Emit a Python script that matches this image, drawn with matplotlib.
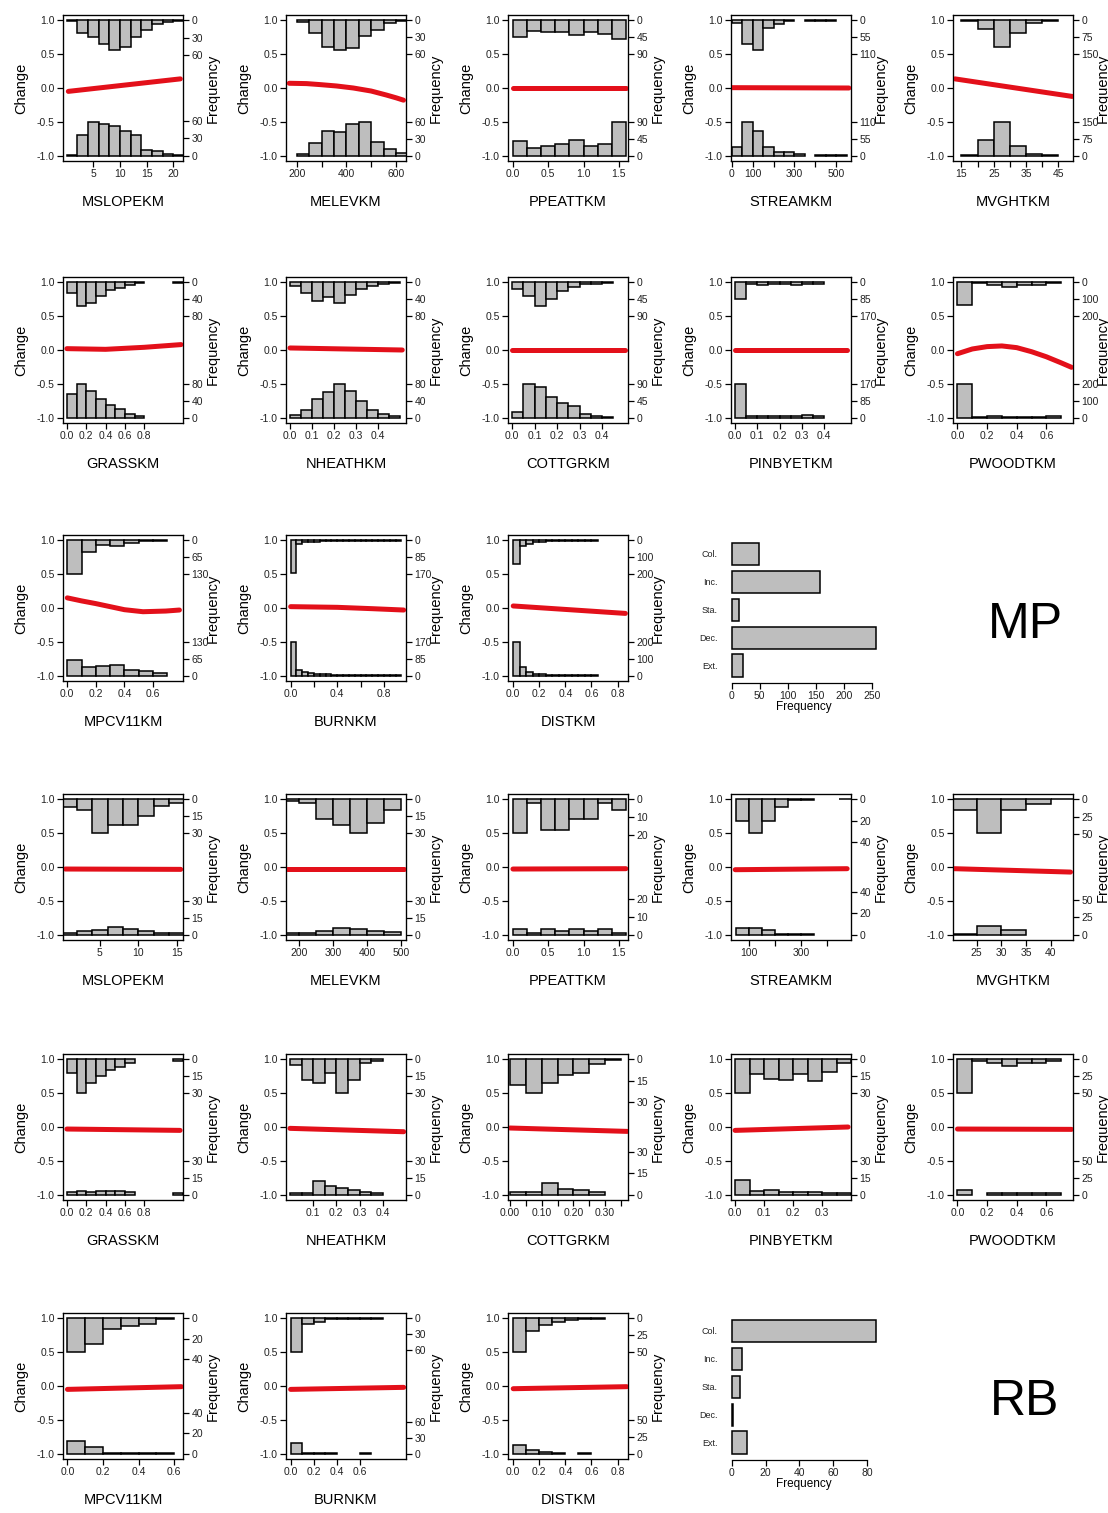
import numpy as np
import matplotlib.pyplot as plt

plt.rcParams['font.family'] = ['Liberation Sans', 'DejaVu Sans']

# ---------------- MP panels ----------------
mp_mslopekm_edges = [0, 2, 4, 6, 8, 10, 12, 14, 16, 18, 20, 22]
mp_mslopekm_hi = [1, 22, 29, 41, 51, 45, 28, 16, 6, 2, 1]
mp_mslopekm_lo = [1, 36, 58, 54, 50, 42, 36, 10, 8, 3, 1]
mp_mslopekm_fx = [0.3, 21.3]
mp_mslopekm_fy = [-0.05, 0.135]

mp_melevkm_edges = [200, 250, 300, 350, 400, 450, 500, 550, 600, 650]
mp_melevkm_hi = [2, 22, 47, 53, 49, 28, 17, 4, 1]
mp_melevkm_lo = [2, 22, 43, 41, 56, 60, 25, 12, 4]
mp_melevkm_fx = [170, 240, 295, 360, 428, 500, 562, 600, 630]
mp_melevkm_fy = [0.07, 0.065, 0.05, 0.03, 0.0, -0.045, -0.105, -0.145, -0.18]

mp_ppeattkm_edges = [0.0, 0.2, 0.4, 0.6, 0.8, 1.0, 1.2, 1.4, 1.6]
mp_ppeattkm_hi = [43, 27, 32, 30, 40, 30, 35, 50]
mp_ppeattkm_lo = [40, 20, 25, 30, 42, 25, 30, 90]
mp_ppeattkm_fx = [0.0, 1.6]
mp_ppeattkm_fy = [0.0, 0.0]

mp_streamkm_edges = [0, 50, 100, 150, 200, 250, 300, 350, 400, 450, 500, 550]
mp_streamkm_hi = [7, 77, 95, 26, 11, 2, None, 1, 1, 1, None]
mp_streamkm_lo = [29, 110, 79, 29, 13, 11, 4, None, 1, 1, 1]
mp_streamkm_fx = [0, 560]
mp_streamkm_fy = [0.005, 0.0]

mp_mvghtkm_edges = [15, 20, 25, 30, 35, 40, 45]
mp_mvghtkm_hi = [3, 39, 120, 57, 12, 3]
mp_mvghtkm_lo = [2, 70, 150, 43, 6, 3]
mp_mvghtkm_fx = [13, 49.3]
mp_mvghtkm_fy = [0.135, -0.125]

mp_grasskm_edges = [0.0, 0.1, 0.2, 0.3, 0.4, 0.5, 0.6, 0.7, 0.8, 0.9, 1.0, 1.1, 1.2]
mp_grasskm_hi = [24, 56, 48, 32, 19, 13, 5, 2, None, None, None, 1]
mp_grasskm_lo = [56, 80, 64, 45, 29, 21, 8, 3, None, None, None, None]
mp_grasskm_fx = [0.0, 0.4, 0.8, 1.18]
mp_grasskm_fy = [0.02, 0.01, 0.04, 0.08]

mp_nheathkm_edges = [0.0, 0.05, 0.1, 0.15, 0.2, 0.25, 0.3, 0.35, 0.4, 0.45, 0.5]
mp_nheathkm_hi = [8, 24, 45, 35, 48, 29, 16, 8, 3, 2]
mp_nheathkm_lo = [5, 19, 45, 61, 80, 64, 40, 19, 8, 3]
mp_nheathkm_fx = [0.0, 0.51]
mp_nheathkm_fy = [0.03, 0.0]

mp_cottgrkm_edges = [0.0, 0.05, 0.1, 0.15, 0.2, 0.25, 0.3, 0.35, 0.4, 0.45]
mp_cottgrkm_hi = [18, 36, 63, 45, 22, 13, 5, 4, 2]
mp_cottgrkm_lo = [14, 90, 81, 54, 40, 31, 9, 4, 2]
mp_cottgrkm_fx = [0.0, 0.5]
mp_cottgrkm_fy = [0.0, 0.0]

mp_pinbyetkm_edges = [0.0, 0.05, 0.1, 0.15, 0.2, 0.25, 0.3, 0.35, 0.4]
mp_pinbyetkm_hi = [85, 10, 14, 10, 10, 14, 10, 7]
mp_pinbyetkm_lo = [170, 10, 7, 10, 7, 10, 14, 10]
mp_pinbyetkm_fx = [0.0, 0.5]
mp_pinbyetkm_fy = [0.0, 0.0]

mp_pwoodtkm_edges = [0.0, 0.1, 0.2, 0.3, 0.4, 0.5, 0.6, 0.7]
mp_pwoodtkm_hi = [135, 4, 16, 30, 16, 14, 6]
mp_pwoodtkm_lo = [200, 2, 9, 5, 3, 2, 10]
mp_pwoodtkm_fx = [0.0, 0.1, 0.2, 0.3, 0.4, 0.5, 0.6, 0.7, 0.77]
mp_pwoodtkm_fy = [-0.055, 0.015, 0.05, 0.06, 0.035, -0.025, -0.1, -0.19, -0.256]

mp_mpcv11km_edges = [0.0, 0.1, 0.2, 0.3, 0.4, 0.5, 0.6, 0.7]
mp_mpcv11km_hi = [130, 45, 17, 22, 10, 4, 1]
mp_mpcv11km_lo = [60, 34, 38, 39, 23, 16, 9]
mp_mpcv11km_fx = [0.0, 0.1, 0.2, 0.3, 0.4, 0.53, 0.69, 0.785]
mp_mpcv11km_fy = [0.15, 0.105, 0.065, 0.02, -0.025, -0.055, -0.045, -0.03]

mp_burnkm_edges = [0.0, 0.05, 0.1, 0.15, 0.2, 0.25, 0.3, 0.35, 0.4, 0.45, 0.5,
                   0.55, 0.6, 0.65, 0.7, 0.75, 0.8, 0.85, 0.9, 0.95]
mp_burnkm_hi = [165, 17, 10, 7, 6, 5, 4, 3, 2, 2, 1, 1, 1, 1, 1, 1, 1, 1, 1]
mp_burnkm_lo = [170, 27, 17, 14, 10, 8, 6, 5, 4, 3, 3, 2, 2, 1, 1, 1, 1, 1, 1]
mp_burnkm_fx = [0.0, 0.4, 0.7, 0.97]
mp_burnkm_fy = [0.02, 0.01, -0.01, -0.03]

mp_distkm_edges = [0.0, 0.05, 0.1, 0.15, 0.2, 0.25, 0.3, 0.35, 0.4, 0.45, 0.5,
                   0.55, 0.6, 0.65]
mp_distkm_hi = [140, 32, 20, 12, 8, 6, 4, 3, 2, 2, 1, 1, 1]
mp_distkm_lo = [200, 52, 20, 12, 8, 5, 4, 3, 2, 2, 1, 1, 1]
mp_distkm_fx = [0.0, 0.86]
mp_distkm_fy = [0.03, -0.08]

mp_categories = ['Col.', 'Inc.', 'Sta.', 'Dec.', 'Ext.']
mp_trend_freq = [48, 157, 14, 258, 20]

# ---------------- RB panels ----------------
rb_mslopekm_edges = [0, 2, 4, 6, 8, 10, 12, 14, 16]
rb_mslopekm_hi = [7, 9, 30, 23, 23, 15, 6, 3]
rb_mslopekm_lo = [1, 3, 4, 7, 5, 3, 1, 1]
rb_mslopekm_fx = [0.5, 15.5]
rb_mslopekm_fy = [-0.03, -0.035]

rb_melevkm_edges = [150, 200, 250, 300, 350, 400, 450, 500]
rb_melevkm_hi = [1, 3, 17, 23, 30, 21, 9]
rb_melevkm_lo = [1, 1, 3, 6, 5, 3, 2]
rb_melevkm_fx = [165, 510]
rb_melevkm_fy = [-0.03, -0.03]

rb_ppeattkm_edges = [0.0, 0.2, 0.4, 0.6, 0.8, 1.0, 1.2, 1.4, 1.6]
rb_ppeattkm_hi = [19, 2, 17, 17, 11, 11, 2, 6]
rb_ppeattkm_lo = [3, 1, 3, 2, 3, 2, 3, 1]
rb_ppeattkm_fx = [0.0, 1.6]
rb_ppeattkm_fy = [-0.03, -0.025]

rb_streamkm_edges = [50, 100, 150, 200, 250, 300, 350, 400, 450, 500]
rb_streamkm_hi = [20, 32, 20, 7, 1, 1, None, None, 0]
rb_streamkm_lo = [6.5, 6.5, 4, 1, 0.5, 1, None, None, None]
rb_streamkm_fx = [45, 480]
rb_streamkm_fy = [-0.04, -0.025]

rb_mvghtkm_edges = [20, 25, 30, 35, 40, 45]
rb_mvghtkm_hi = [16, 49, 15, 6, 0]
rb_mvghtkm_lo = [1.5, 13, 6, None, None]
rb_mvghtkm_fx = [20.5, 44]
rb_mvghtkm_fy = [-0.025, -0.075]

rb_grasskm_edges = [0.0, 0.1, 0.2, 0.3, 0.4, 0.5, 0.6, 0.7, 0.8, 0.9, 1.0, 1.1, 1.2]
rb_grasskm_hi = [12, 30, 21, 15, 9, 7, 3, None, None, None, None, 1]
rb_grasskm_lo = [2, 3, 2, 3, 3, 3, 2, None, None, None, None, 1]
rb_grasskm_fx = [0.0, 1.17]
rb_grasskm_fy = [-0.03, -0.05]

rb_nheathkm_edges = [0.0, 0.05, 0.1, 0.15, 0.2, 0.25, 0.3, 0.35, 0.4]
rb_nheathkm_hi = [5, 18, 21, 12, 30, 18, 3, 1]
rb_nheathkm_lo = [1, 1, 12, 8, 6, 4, 2, 1]
rb_nheathkm_fx = [0.0, 0.49]
rb_nheathkm_fy = [-0.02, -0.07]

rb_cottgrkm_edges = [0.0, 0.05, 0.1, 0.15, 0.2, 0.25, 0.3, 0.35]
rb_cottgrkm_hi = [18, 24, 17, 11, 10, 3, 0.5]
rb_cottgrkm_lo = [2, 2, 8, 4, 3, 2, None]
rb_cottgrkm_fx = [0.0, 0.37]
rb_cottgrkm_fy = [-0.015, -0.065]

rb_pinbyetkm_edges = [0.0, 0.05, 0.1, 0.15, 0.2, 0.25, 0.3, 0.35, 0.4]
rb_pinbyetkm_hi = [30, 13, 17, 18, 13, 19, 11, 3]
rb_pinbyetkm_lo = [13, 3, 4, 2, 2, 2, 1, 1]
rb_pinbyetkm_fx = [0.0, 0.39]
rb_pinbyetkm_fy = [-0.05, 0.0]

rb_pwoodtkm_edges = [0.0, 0.1, 0.2, 0.3, 0.4, 0.5, 0.6, 0.7]
rb_pwoodtkm_hi = [50, 3, 5, 10, 5, 5, 3]
rb_pwoodtkm_lo = [7, None, 2, 2, 2, 2, 2]
rb_pwoodtkm_fx = [0.0, 0.77]
rb_pwoodtkm_fy = [-0.03, -0.035]

rb_mpcv11km_edges = [0.0, 0.1, 0.2, 0.3, 0.4, 0.5, 0.6]
rb_mpcv11km_hi = [33, 25, 10, 7, 5, 0.5]
rb_mpcv11km_lo = [12, 6, 0.5, 0.5, 0.5, 0.5]
rb_mpcv11km_fx = [0.0, 0.64]
rb_mpcv11km_fy = [-0.05, -0.01]

rb_burnkm_edges = [0.0, 0.1, 0.2, 0.3, 0.4, 0.5, 0.6, 0.7, 0.8]
rb_burnkm_hi = [65, 10, 6, 2, 1, 1, 1, 1]
rb_burnkm_lo = [20, 1, 1, 1, None, None, 1, None]
rb_burnkm_fx = [0.0, 0.98]
rb_burnkm_fy = [-0.05, -0.02]

rb_distkm_edges = [0.0, 0.1, 0.2, 0.3, 0.4, 0.5, 0.6, 0.7]
rb_distkm_hi = [50, 18, 10, 5, 3, 1, 1]
rb_distkm_lo = [12, 5, 2, 1, None, 1, None]
rb_distkm_fx = [0.0, 0.87]
rb_distkm_fy = [-0.04, -0.01]

rb_categories = ['Col.', 'Inc.', 'Sta.', 'Dec.', 'Ext.']
rb_trend_freq = [85, 6, 5, 1, 9]

# panel table: (name, edges, hi, lo, fit x, fit y, xlim, xticks, xticklabels, freq ticks)
mp_panels = [
    ('MSLOPEKM', mp_mslopekm_edges, mp_mslopekm_hi, mp_mslopekm_lo, mp_mslopekm_fx, mp_mslopekm_fy,
     (-0.7, 21.8), [5, 10, 15, 20], ['5', '10', '15', '20'], [0, 30, 60]),
    ('MELEVKM', mp_melevkm_edges, mp_melevkm_hi, mp_melevkm_lo, mp_melevkm_fx, mp_melevkm_fy,
     (157, 640), [200, 300, 400, 500, 600], ['200', '', '400', '', '600'], [0, 30, 60]),
    ('PPEATTKM', mp_ppeattkm_edges, mp_ppeattkm_hi, mp_ppeattkm_lo, mp_ppeattkm_fx, mp_ppeattkm_fy,
     (-0.07, 1.63), [0, 0.5, 1.0, 1.5], ['0.0', '0.5', '1.0', '1.5'], [0, 45, 90]),
    ('STREAMKM', mp_streamkm_edges, mp_streamkm_hi, mp_streamkm_lo, mp_streamkm_fx, mp_streamkm_fy,
     (-3, 570), [0, 100, 200, 300, 400, 500], ['0', '100', '', '300', '', '500'], [0, 55, 110]),
    ('MVGHTKM', mp_mvghtkm_edges, mp_mvghtkm_hi, mp_mvghtkm_lo, mp_mvghtkm_fx, mp_mvghtkm_fy,
     (12.4, 49.5), [15, 20, 25, 30, 35, 40, 45], ['15', '', '25', '', '35', '', '45'], [0, 75, 150]),
    ('GRASSKM', mp_grasskm_edges, mp_grasskm_hi, mp_grasskm_lo, mp_grasskm_fx, mp_grasskm_fy,
     (-0.04, 1.2), [0, 0.2, 0.4, 0.6, 0.8], ['0.0', '0.2', '0.4', '0.6', '0.8'], [0, 40, 80]),
    ('NHEATHKM', mp_nheathkm_edges, mp_nheathkm_hi, mp_nheathkm_lo, mp_nheathkm_fx, mp_nheathkm_fy,
     (-0.018, 0.527), [0, 0.1, 0.2, 0.3, 0.4], ['0.0', '0.1', '0.2', '0.3', '0.4'], [0, 40, 80]),
    ('COTTGRKM', mp_cottgrkm_edges, mp_cottgrkm_hi, mp_cottgrkm_lo, mp_cottgrkm_fx, mp_cottgrkm_fy,
     (-0.018, 0.515), [0, 0.1, 0.2, 0.3, 0.4], ['0.0', '0.1', '0.2', '0.3', '0.4'], [0, 45, 90]),
    ('PINBYETKM', mp_pinbyetkm_edges, mp_pinbyetkm_hi, mp_pinbyetkm_lo, mp_pinbyetkm_fx, mp_pinbyetkm_fy,
     (-0.018, 0.52), [0, 0.1, 0.2, 0.3, 0.4], ['0.0', '0.1', '0.2', '0.3', '0.4'], [0, 85, 170]),
    ('PWOODTKM', mp_pwoodtkm_edges, mp_pwoodtkm_hi, mp_pwoodtkm_lo, mp_pwoodtkm_fx, mp_pwoodtkm_fy,
     (-0.03, 0.78), [0, 0.2, 0.4, 0.6], ['0.0', '0.2', '0.4', '0.6'], [0, 100, 200]),
    ('MPCV11KM', mp_mpcv11km_edges, mp_mpcv11km_hi, mp_mpcv11km_lo, mp_mpcv11km_fx, mp_mpcv11km_fy,
     (-0.03, 0.81), [0, 0.2, 0.4, 0.6], ['0.0', '0.2', '0.4', '0.6'], [0, 65, 130]),
    ('BURNKM', mp_burnkm_edges, mp_burnkm_hi, mp_burnkm_lo, mp_burnkm_fx, mp_burnkm_fy,
     (-0.04, 0.99), [0, 0.2, 0.4, 0.6, 0.8], ['0.0', '', '0.4', '', '0.8'], [0, 85, 170]),
    ('DISTKM', mp_distkm_edges, mp_distkm_hi, mp_distkm_lo, mp_distkm_fx, mp_distkm_fy,
     (-0.04, 0.88), [0, 0.2, 0.4, 0.6, 0.8], ['0.0', '0.2', '0.4', '0.6', '0.8'], [0, 100, 200]),
]

rb_panels = [
    ('MSLOPEKM', rb_mslopekm_edges, rb_mslopekm_hi, rb_mslopekm_lo, rb_mslopekm_fx, rb_mslopekm_fy,
     (0.2, 15.8), [5, 10, 15], ['5', '10', '15'], [0, 15, 30]),
    ('MELEVKM', rb_melevkm_edges, rb_melevkm_hi, rb_melevkm_lo, rb_melevkm_fx, rb_melevkm_fy,
     (162, 515), [200, 300, 400, 500], ['200', '300', '400', '500'], [0, 15, 30]),
    ('PPEATTKM', rb_ppeattkm_edges, rb_ppeattkm_hi, rb_ppeattkm_lo, rb_ppeattkm_fx, rb_ppeattkm_fy,
     (-0.07, 1.63), [0, 0.5, 1.0, 1.5], ['0.0', '0.5', '1.0', '1.5'], [0, 10, 20]),
    ('STREAMKM', rb_streamkm_edges, rb_streamkm_hi, rb_streamkm_lo, rb_streamkm_fx, rb_streamkm_fy,
     (28.7, 495), [100, 200, 300, 400], ['100', '', '300', ''], [0, 20, 40]),
    ('MVGHTKM', rb_mvghtkm_edges, rb_mvghtkm_hi, rb_mvghtkm_lo, rb_mvghtkm_fx, rb_mvghtkm_fy,
     (20.25, 44.5), [25, 30, 35, 40], ['25', '30', '35', '40'], [0, 25, 50]),
    ('GRASSKM', rb_grasskm_edges, rb_grasskm_hi, rb_grasskm_lo, rb_grasskm_fx, rb_grasskm_fy,
     (-0.04, 1.2), [0, 0.2, 0.4, 0.6, 0.8], ['0.0', '0.2', '0.4', '0.6', '0.8'], [0, 15, 30]),
    ('NHEATHKM', rb_nheathkm_edges, rb_nheathkm_hi, rb_nheathkm_lo, rb_nheathkm_fx, rb_nheathkm_fy,
     (-0.017, 0.5), [0.1, 0.2, 0.3, 0.4], ['0.1', '0.2', '0.3', '0.4'], [0, 15, 30]),
    ('COTTGRKM', rb_cottgrkm_edges, rb_cottgrkm_hi, rb_cottgrkm_lo, rb_cottgrkm_fx, rb_cottgrkm_fy,
     (-0.006, 0.372), [0, 0.05, 0.1, 0.15, 0.2, 0.25, 0.3, 0.35],
     ['0.00', '', '0.10', '', '0.20', '', '0.30', ''], [0, 15, 30]),
    ('PINBYETKM', rb_pinbyetkm_edges, rb_pinbyetkm_hi, rb_pinbyetkm_lo, rb_pinbyetkm_fx, rb_pinbyetkm_fy,
     (-0.014, 0.4), [0, 0.1, 0.2, 0.3], ['0.0', '0.1', '0.2', '0.3'], [0, 15, 30]),
    ('PWOODTKM', rb_pwoodtkm_edges, rb_pwoodtkm_hi, rb_pwoodtkm_lo, rb_pwoodtkm_fx, rb_pwoodtkm_fy,
     (-0.03, 0.78), [0, 0.2, 0.4, 0.6], ['0.0', '0.2', '0.4', '0.6'], [0, 25, 50]),
    ('MPCV11KM', rb_mpcv11km_edges, rb_mpcv11km_hi, rb_mpcv11km_lo, rb_mpcv11km_fx, rb_mpcv11km_fy,
     (-0.025, 0.649), [0, 0.2, 0.4, 0.6], ['0.0', '0.2', '0.4', '0.6'], [0, 20, 40]),
    ('BURNKM', rb_burnkm_edges, rb_burnkm_hi, rb_burnkm_lo, rb_burnkm_fx, rb_burnkm_fy,
     (-0.04, 1.0), [0, 0.2, 0.4, 0.6], ['0.0', '0.2', '0.4', '0.6'], [0, 30, 60]),
    ('DISTKM', rb_distkm_edges, rb_distkm_hi, rb_distkm_lo, rb_distkm_fx, rb_distkm_fy,
     (-0.04, 0.88), [0, 0.2, 0.4, 0.6, 0.8], ['0.0', '0.2', '0.4', '0.6', '0.8'], [0, 25, 50]),
]

W, H = 1108, 1513
fig = plt.figure(figsize=(W / 100, H / 100), dpi=100)

col_left = [63, 286, 508, 731, 953]
row_top = [15, 277, 535, 794, 1054, 1313]
bw, bh = 120, 146
tick_col = '#222222'


def px_axes(left, top, w, h):
    return fig.add_axes([left / W, 1 - (top + h) / H, w / W, h / H])


def draw_panel(ax, p):
    name, edges, hi, lo, fx, fy, xlim, xt, xtl, ft = p
    counts = [c for c in hi + lo if c is not None]
    s = 0.5 / max(counts)
    for i in range(len(edges) - 1):
        w = edges[i + 1] - edges[i]
        if i < len(lo) and lo[i] is not None:
            ax.bar(edges[i], lo[i] * s, w, bottom=-1, align='edge', color='#bebebe',
                   edgecolor='black', linewidth=1.1, zorder=2)
        if i < len(hi) and hi[i] is not None:
            ax.bar(edges[i], -hi[i] * s, w, bottom=1, align='edge', color='#bebebe',
                   edgecolor='black', linewidth=1.1, zorder=2)
    ax.plot(fx, fy, color='#e3101a', lw=3.6, solid_capstyle='round', zorder=3)
    ax.set_xlim(xlim)
    ax.set_ylim(-1.08, 1.08)
    ax.set_xticks(xt)
    ax.set_xticklabels(xtl)
    ax.set_yticks([-1, -0.5, 0, 0.5, 1])
    ax.set_yticklabels(['-1.0', '-0.5', '0.0', '0.5', '1.0'])
    ax.tick_params(direction='out', length=4, width=0.9, labelsize=7.5, pad=2,
                   colors='black', labelcolor=tick_col)
    for sp in ax.spines.values():
        sp.set_linewidth(0.9)
    ax2 = ax.twinx()
    ax2.set_ylim(-1.08, 1.08)
    pos = [-1 + v * s for v in ft] + [1 - v * s for v in ft]
    ax2.set_yticks(pos)
    ax2.set_yticklabels([str(v) for v in ft] * 2)
    ax2.tick_params(direction='out', length=4, width=0.9, labelsize=7.5, pad=2,
                    colors='black', labelcolor=tick_col)
    ax.text(-0.35, 0.5, 'Change', rotation=90, ha='center', va='center',
            fontsize=10.5, transform=ax.transAxes)
    ax.text(1.25, 0.5, 'Frequency', rotation=90, ha='center', va='center',
            fontsize=10.5, transform=ax.transAxes)
    ax.text(0.5, -0.28, name, ha='center', va='center', fontsize=10.5,
            transform=ax.transAxes)


def draw_trend(top, cats, freq, xlim, xt):
    ax = px_axes(726, top, 156, 146)
    yy = list(range(len(cats)))[::-1]
    ax.barh(yy, freq, height=0.8, color='#bebebe', edgecolor='black', linewidth=1.1)
    ax.set_yticks(yy)
    ax.set_yticklabels(cats)
    ax.set_ylim(-0.62, 4.6)
    ax.set_xlim(xlim)
    ax.set_xticks(xt)
    for k in ['top', 'right', 'left']:
        ax.spines[k].set_visible(False)
    ax.spines['bottom'].set_bounds(xt[0], xt[-1])
    ax.spines['bottom'].set_linewidth(0.9)
    ax.tick_params(axis='y', length=0, labelsize=6.5, pad=6, labelcolor=tick_col)
    ax.tick_params(axis='x', direction='out', length=4, width=0.9, labelsize=7.5,
                   pad=2, labelcolor=tick_col)
    ax.set_xlabel('Frequency', fontsize=8.5, labelpad=0)


def draw_block(panels, first_row):
    for k, p in enumerate(panels):
        r = first_row + k // 5
        c = k % 5
        ax = px_axes(col_left[c], row_top[r], bw, bh)
        draw_panel(ax, p)


draw_block(mp_panels, 0)
draw_block(rb_panels, 3)

draw_trend(row_top[2] + 2, mp_categories, mp_trend_freq, (-10, 268), [0, 50, 100, 150, 200, 250])
draw_trend(row_top[5] + 1, rb_categories, rb_trend_freq, (-3.3, 88.7), [0, 20, 40, 60, 80])

fig.text(1025 / W, 1 - 625 / H, 'MP', fontsize=36, ha='center', va='center')
fig.text(1025 / W, 1 - 1402 / H, 'RB', fontsize=36, ha='center', va='center')

fig.savefig('out.png', dpi=100)
